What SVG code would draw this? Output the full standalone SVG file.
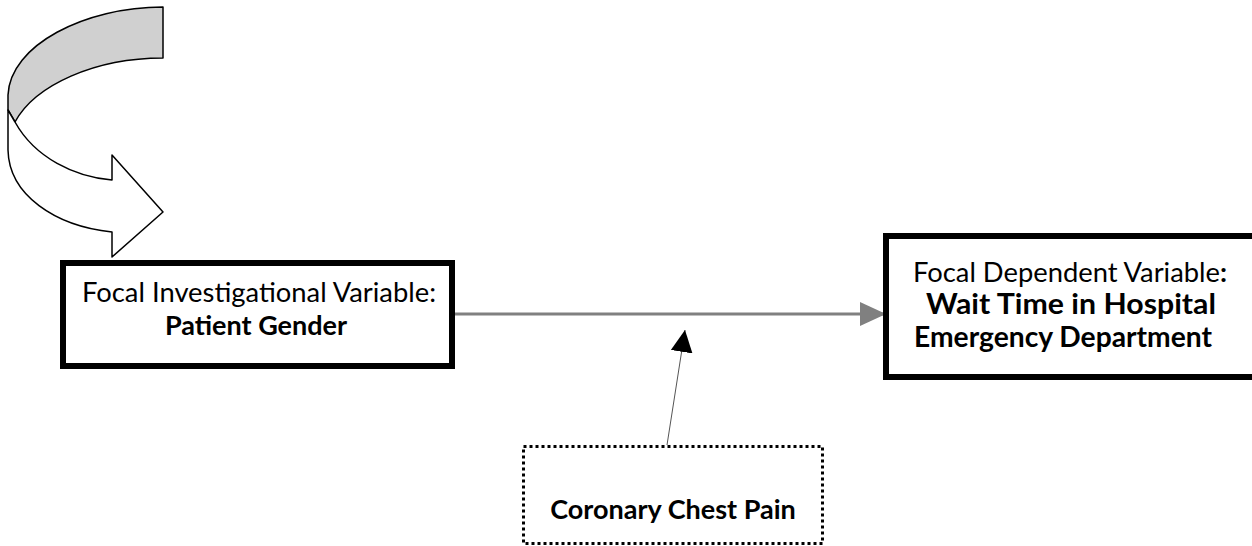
<svg xmlns="http://www.w3.org/2000/svg" width="1252" height="546" viewBox="0 0 1252 546">
  <defs>
    <style>
      .box { fill: #ffffff; stroke: #000000; stroke-width: 6; }
      .dotted { fill: #ffffff; stroke: #000000; stroke-width: 3; stroke-dasharray: 3 3; }
      .label { font-family: Lato, "Open Sans", "Liberation Sans", sans-serif; font-size: 27px; fill: #000000; text-anchor: middle; }
      .bold { font-weight: bold; }
      .big { font-size: 28px; }
      .shape { stroke: #000000; stroke-width: 1.5; stroke-linejoin: round; }
    </style>
    <marker id="grayHead" viewBox="0 0 26 24" refX="26" refY="12" markerWidth="26" markerHeight="24" markerUnits="userSpaceOnUse" orient="auto">
      <path d="M0,0 L26,12 L0,24 Z" fill="#808080"/>
    </marker>
    <marker id="blackHead" viewBox="0 0 22 22" refX="22" refY="11" markerWidth="22" markerHeight="22" markerUnits="userSpaceOnUse" orient="auto">
      <path d="M0,0 L22,11 L0,22 Z" fill="#000000"/>
    </marker>
  </defs>

  <rect width="1252" height="546" fill="#ffffff"/>

  <!-- curved U-turn arrow -->
  <g id="curved-arrow">
    <path class="shape" fill="#d0d0d0" d="M163,7 C85,7 10,45 8,95 L8,110 L15,122 C35,85 95,58 163,58 Z"/>
    <path class="shape" fill="#ffffff" d="M15,122 C35,158 75,177 112,180 L112,155 L163,212 L112,257 L112,232 C55,226 9,195 8,150 L8,110 Z"/>
  </g>

  <!-- connectors -->
  <g id="connectors">
    <line x1="453" y1="314" x2="886" y2="314" stroke="#808080" stroke-width="3" marker-end="url(#grayHead)"/>
    <line x1="667" y1="445" x2="685" y2="330" stroke="#555555" stroke-width="1" marker-end="url(#blackHead)"/>
  </g>

  <g id="node-investigational">
    <rect class="box" x="63" y="263" width="389" height="103"/>
    <text class="label" x="259" y="302" textLength="354" lengthAdjust="spacingAndGlyphs">Focal Investigational Variable:</text>
    <text class="label bold" x="256" y="335">Patient Gender</text>
  </g>

  <g id="node-dependent">
    <rect class="box" x="886" y="236" width="380" height="141"/>
    <text class="label" x="1070" y="282" textLength="314" lengthAdjust="spacingAndGlyphs">Focal Dependent Variable<tspan class="bold">:</tspan></text>
    <text class="label bold big" x="1071" y="314" textLength="290" lengthAdjust="spacingAndGlyphs">Wait Time in Hospital</text>
    <text class="label bold big" x="1063" y="347" textLength="298" lengthAdjust="spacingAndGlyphs">Emergency Department</text>
  </g>

  <g id="node-moderator">
    <rect class="dotted" x="523.5" y="446.5" width="299" height="97"/>
    <text class="label bold" x="673" y="519">Coronary Chest Pain</text>
  </g>
</svg>
